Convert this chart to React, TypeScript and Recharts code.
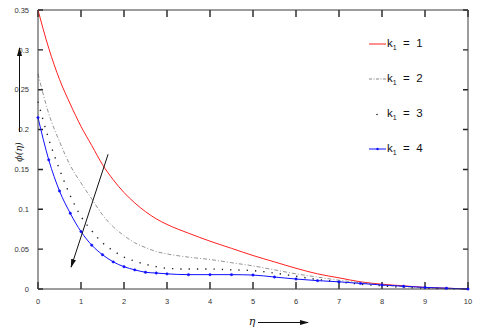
import { LineChart, Line, XAxis, YAxis, Legend } from "recharts";

// eta grid and phi(eta) profiles
const eta = [0, 0.25, 0.5, 0.75, 1, 1.25, 1.5, 1.75, 2, 2.25, 2.5, 2.75, 3, 3.5, 4, 4.5, 5, 5.5, 6, 6.5, 7, 7.5, 8, 8.5, 9, 9.5, 10];
const phiK1 = [0.35, 0.302, 0.263, 0.232, 0.204, 0.18, 0.156, 0.137, 0.121, 0.108, 0.097, 0.088, 0.081, 0.07, 0.06, 0.051, 0.042, 0.034, 0.026, 0.019, 0.014, 0.009, 0.006, 0.004, 0.002, 0.001, 0];
const phiK2 = [0.27, 0.22, 0.185, 0.155, 0.133, 0.113, 0.093, 0.078, 0.067, 0.058, 0.052, 0.047, 0.044, 0.04, 0.037, 0.033, 0.029, 0.024, 0.019, 0.015, 0.011, 0.008, 0.005, 0.003, 0.0015, 0.0005, 0];
const phiK3 = [0.235, 0.188, 0.15, 0.117, 0.091, 0.073, 0.058, 0.048, 0.04, 0.035, 0.031, 0.028, 0.026, 0.025, 0.025, 0.024, 0.023, 0.02, 0.016, 0.012, 0.009, 0.006, 0.004, 0.002, 0.001, 0.0005, 0];
const phiK4 = [0.215, 0.162, 0.123, 0.095, 0.072, 0.055, 0.043, 0.034, 0.028, 0.024, 0.021, 0.02, 0.019, 0.018, 0.018, 0.018, 0.0175, 0.015, 0.0125, 0.0105, 0.009, 0.007, 0.005, 0.0035, 0.002, 0.001, 0];

const xTicks = [0, 1, 2, 3, 4, 5, 6, 7, 8, 9, 10];
const yTicks = [0, 0.05, 0.1, 0.15, 0.2, 0.25, 0.3, 0.35];

// the "increasing k1" arrow drawn across the curves
const arrowEta = [1.63, 0.77];
const arrowPhi = [0.169, 0.0275];

const legendLabels = ["1", "2", "3", "4"];

const data = eta.map((e, i) => ({
  eta: e,
  k1: phiK1[i],
  k2: phiK2[i],
  k3: phiK3[i],
  k4: phiK4[i],
}));
const arrowData = arrowEta.map((e, i) => ({ eta: e, arrow: arrowPhi[i] }));

const X_MAX = 10;
const Y_MAX = 0.35;
// inward tick mark lengths, in data units (~7px and ~5px)
const xMarkLen = (Y_MAX * 7) / 280;
const yMarkLen = (X_MAX * 5) / 430;

// inward tick marks on all four sides, as short broken segments of one series
const markData = [
  ...xTicks.flatMap((t) => [
    { eta: t, mark: 0 },
    { eta: t, mark: xMarkLen },
    { eta: t, mark: null },
    { eta: t, mark: Y_MAX },
    { eta: t, mark: Y_MAX - xMarkLen },
    { eta: t, mark: null },
  ]),
  ...yTicks.flatMap((t) => [
    { eta: 0, mark: t },
    { eta: yMarkLen, mark: t },
    { eta: yMarkLen, mark: null },
    { eta: X_MAX, mark: t },
    { eta: X_MAX - yMarkLen, mark: t },
    { eta: X_MAX - yMarkLen, mark: null },
  ]),
];

const axisColor = "#3a3a3a";
const markColor = "#222";
const font = "'Liberation Sans Narrow', 'Liberation Sans', Arial, sans-serif";
const tickFont = { fontSize: 7.5, fill: "#333", fontFamily: font };

function LegendSample({ idx }: { idx: number }) {
  return (
    <svg width={18} height={10}>
      {idx === 0 && <line x1={0} y1={5} x2={17} y2={5} stroke="#ff2020" strokeWidth={1} />}
      {idx === 1 && (
        <line x1={0} y1={5} x2={17} y2={5} stroke="#888" strokeWidth={1} strokeDasharray="3 1.5 1 1.5" />
      )}
      {idx === 2 && <circle cx={8} cy={5.5} r={0.8} fill="#222" />}
      {idx === 3 && (
        <g>
          <line x1={0} y1={5} x2={17} y2={5} stroke="#1010ff" strokeWidth={1} />
          <circle cx={8.5} cy={5} r={1.2} fill="#1010ff" />
        </g>
      )}
    </svg>
  );
}

function renderLegend() {
  return (
    <div style={{ fontFamily: font, color: "#111" }}>
      {legendLabels.map((lab, i) => (
        <div key={lab} style={{ height: 35, display: "flex", alignItems: "center" }}>
          <LegendSample idx={i} />
          <span style={{ fontSize: 11.5, whiteSpace: "pre" }}>
            k<sub style={{ fontSize: 7, verticalAlign: "-3px" }}>1</sub>
            {"  =  " + lab}
          </span>
        </div>
      ))}
    </div>
  );
}

export default function App() {
  return (
    <div style={{ position: "absolute", left: 0, top: 0, width: 480, height: 334, background: "#fff" }}>
      <LineChart
        width={480}
        height={334}
        data={data}
        margin={{ top: 9, right: 11, bottom: 25, left: 8 }}
      >
        <XAxis
          dataKey="eta"
          type="number"
          domain={[0, X_MAX]}
          ticks={xTicks}
          height={20}
          stroke={axisColor}
          tickLine={false}
          tickMargin={4}
          tick={tickFont}
          interval={0}
        />
        <XAxis
          xAxisId="top"
          orientation="top"
          dataKey="eta"
          type="number"
          domain={[0, X_MAX]}
          height={1}
          stroke={axisColor}
          tickLine={false}
          tick={false}
        />
        <YAxis
          type="number"
          domain={[0, Y_MAX]}
          ticks={yTicks}
          width={30}
          stroke={axisColor}
          tickLine={false}
          tickMargin={3}
          tick={tickFont}
          interval={0}
        />
        <YAxis
          yAxisId="right"
          orientation="right"
          type="number"
          domain={[0, Y_MAX]}
          width={1}
          stroke={axisColor}
          tickLine={false}
          tick={false}
        />
        <Legend
          layout="horizontal"
          verticalAlign="middle"
          align="center"
          content={renderLegend}
          wrapperStyle={{ position: "absolute", top: 26, left: 369, width: 90 }}
        />
        <Line
          data={markData}
          dataKey="mark"
          type="linear"
          stroke={markColor}
          strokeWidth={1.4}
          dot={false}
          connectNulls={false}
          isAnimationActive={false}
          legendType="none"
        />
        <Line
          type="monotone"
          dataKey="k1"
          stroke="#ff2020"
          strokeWidth={1}
          dot={false}
          isAnimationActive={false}
        />
        <Line
          type="monotone"
          dataKey="k2"
          stroke="#888"
          strokeWidth={0.9}
          strokeDasharray="4 2 1 2"
          dot={false}
          isAnimationActive={false}
        />
        <Line
          type="monotone"
          dataKey="k3"
          stroke="#222"
          strokeWidth={1.4}
          strokeDasharray="1.3 7"
          dot={false}
          isAnimationActive={false}
        />
        <Line
          type="monotone"
          dataKey="k4"
          stroke="#1010ff"
          strokeWidth={1}
          dot={{ r: 1.2, fill: "#1010ff", stroke: "#1010ff", strokeWidth: 0.5 }}
          isAnimationActive={false}
        />
        <Line
          data={arrowData}
          dataKey="arrow"
          type="linear"
          stroke="#111"
          strokeWidth={1}
          dot={false}
          markerEnd="url(#arrowHead)"
          isAnimationActive={false}
          legendType="none"
        />
      </LineChart>
      <svg
        width={480}
        height={334}
        style={{ position: "absolute", left: 0, top: 0, pointerEvents: "none" }}
      >
        <defs>
          <marker
            id="arrowHead"
            markerWidth={9}
            markerHeight={5}
            refX={8}
            refY={2.5}
            orient="auto"
            markerUnits="userSpaceOnUse"
          >
            <path d="M0,0 L9,2.5 L0,5 Z" fill="#111" />
          </marker>
        </defs>
        <text
          x={252}
          y={325}
          fontSize={11}
          fontStyle="italic"
          fontFamily="'DejaVu Serif', serif"
          textAnchor="middle"
          fill="#222"
        >
          η
        </text>
        <line x1={258} y1={322.5} x2={308} y2={322.5} stroke="#111" strokeWidth={1} markerEnd="url(#arrowHead)" />
        <text
          x={0}
          y={0}
          transform="translate(22,152) rotate(-90)"
          fontSize={9.5}
          fontStyle="italic"
          fontFamily="'DejaVu Serif', serif"
          textAnchor="middle"
          fill="#222"
        >
          ϕ(η)
        </text>
        <line x1={19.5} y1={132} x2={19.5} y2={48} stroke="#111" strokeWidth={1} markerEnd="url(#arrowHead)" />
      </svg>
    </div>
  );
}
